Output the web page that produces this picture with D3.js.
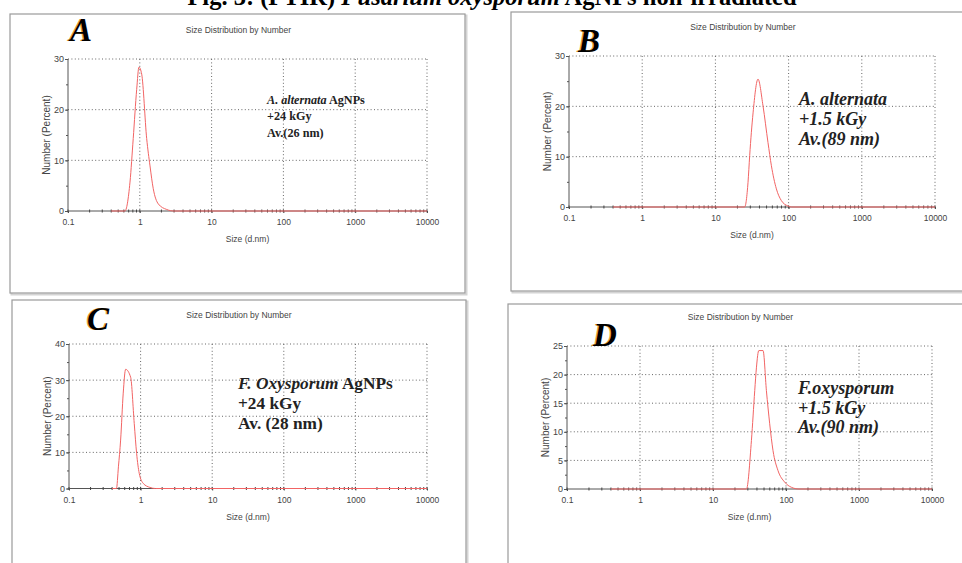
<!DOCTYPE html>
<html>
<head>
<meta charset="utf-8">
<script src="https://cdn.jsdelivr.net/npm/d3@7/dist/d3.min.js"></script>
<style>
  body { margin: 0; background: #fff; }
  svg { display: block; }
</style>
</head>
<body>
<div id="chart"></div>
<script>
// sizes (d.nm) and number (%)
const sizesA = [0.4, 0.62, 0.73, 0.81, 0.905, 0.974, 1.063, 1.247, 1.387, 1.54, 1.81, 2.37, 3.0, 10000];
const numA   = [0,   0,    5.7,  14.3, 24,    28.4,  27.0,  14.3,  8.9,   4.4,  1.4,  0.3,  0,   0];

const sizesB = [0.4, 25.1, 27.9, 29.4, 32.7, 38.2, 44.7, 52.3, 58.2, 68.1, 79.4, 98,  110, 10000];
const numB   = [0,   0,    4.9,  10.2, 18.7, 25.4, 20.1, 12.8, 8.2,  3.6,  1.3,  0.2, 0,   0];

const sizesC = [0.4, 0.46, 0.49, 0.526, 0.572, 0.618, 0.726, 0.815, 0.88, 0.957, 1.09, 1.35, 1.6, 10000];
const numC   = [0,   0,    6,    13.4,  26.4,  33,    30.8,  18,    9.7,  4.2,   1.4,  0.3,  0,   0];

const sizesD = [0.4, 28.7, 33.6, 37.3, 39.4, 42.4, 48.5, 53.9, 59.8, 66.4, 77.8, 96,  118.6, 150, 10000];
const numD   = [0,   0,    8.5,  17.2, 21.3, 24.2, 24.2, 17.2, 11.4, 6.7,  3.2,  1.2, 0.3,   0,   0];

const xTickLabels = ['0.1', '1', '10', '100', '1000', '10000'];
const yTicksA = [0, 10, 20, 30];
const yTicksB = [0, 10, 20, 30];
const yTicksC = [0, 10, 20, 30, 40];
const yTicksD = [0, 5, 10, 15, 20, 25];

// annotation lines: [text, italic]
const annotA = [[['A. alternata', true], [' AgNPs', false]], [['+24 kGy', false]], [['Av.(26 nm)', false]]];
const annotB = [[['A. alternata', true]], [['+1.5 kGy', true]], [['Av.(89 nm)', true]]];
const annotC = [[['F. Oxysporum', true], [' AgNPs', false]], [['+24 kGy', false]], [['Av. (28 nm)', false]]];
const annotD = [[['F.oxysporum', true]], [['+1.5 kGy', true]], [['Av.(90 nm)', true]]];

const panels = [
  { letter: 'A', sizes: sizesA, values: numA, yTicks: yTicksA, annot: annotA, yMinor: 5,
    frame: [10, 14, 455, 279], plot: [68, 427, 59, 211], letterPos: [70, 41], annotPos: [267, 103.5], annotSize: 12.2, annotGap: 16.5 },
  { letter: 'B', sizes: sizesB, values: numB, yTicks: yTicksB, annot: annotB, yMinor: 5,
    frame: [511, 12, 452, 279], plot: [569, 935, 56, 207], letterPos: [578, 52], annotPos: [799, 105], annotSize: 18, annotGap: 20 },
  { letter: 'C', sizes: sizesC, values: numC, yTicks: yTicksC, annot: annotC, yMinor: 5,
    frame: [12, 300, 454, 280], plot: [69, 427, 344, 488.5], letterPos: [87, 330], annotPos: [238, 389], annotSize: 17.3, annotGap: 20 },
  { letter: 'D', sizes: sizesD, values: numD, yTicks: yTicksD, annot: annotD, yMinor: 2.5,
    frame: [508, 304, 460, 280], plot: [567, 932, 346, 489], letterPos: [593, 346], annotPos: [798, 394], annotSize: 18, annotGap: 19.5 }
];

const svg = d3.select('#chart')
  .append('svg')
  .attr('width', 962)
  .attr('height', 563);

// figure caption, cut at the top of the picture
const caption = svg.append('text')
  .attr('x', 492)
  .attr('y', 5)
  .attr('text-anchor', 'middle')
  .style('font', 'bold 24.5px "Liberation Serif"');
caption.append('tspan').text('Fig. 3: (FTIR) ');
caption.append('tspan').style('font-style', 'italic').text('Fusarium oxysporum');
caption.append('tspan').text(' AgNPs non-irradiated');

const smallFont = '8.5px "Liberation Sans"';
const xTickVals = xTickLabels.map(Number);

function drawPanel(p) {
  const g = svg.append('g');
  const [fx, fy, fw, fh] = p.frame;
  const [left, right, top, bottom] = p.plot;

  // frame with soft shadow
  g.append('rect')
    .attr('x', fx + 1.5).attr('y', fy + 1.5).attr('width', fw).attr('height', fh)
    .attr('fill', 'none').attr('stroke', '#d4d4d4').attr('stroke-width', 2);
  g.append('rect')
    .attr('x', fx).attr('y', fy).attr('width', fw).attr('height', fh)
    .attr('fill', '#fff').attr('stroke', '#9a9a9a').attr('stroke-width', 1.2);

  const x = d3.scaleLog().domain([0.1, 10000]).range([left, right]);
  const y = d3.scaleLinear().domain([0, d3.max(p.yTicks)]).range([bottom, top]);

  // dotted grid
  g.append('g').selectAll('line')
    .data(xTickVals.slice(1))
    .enter().append('line')
      .attr('x1', d => x(d)).attr('x2', d => x(d))
      .attr('y1', top).attr('y2', bottom)
      .attr('stroke', '#666').attr('stroke-width', 1)
      .attr('stroke-dasharray', '1,2.4');
  g.append('g').selectAll('line')
    .data(p.yTicks.slice(1))
    .enter().append('line')
      .attr('x1', left).attr('x2', right)
      .attr('y1', d => y(d)).attr('y2', d => y(d))
      .attr('stroke', '#666').attr('stroke-width', 1)
      .attr('stroke-dasharray', '1,2.4');

  // y axis
  const yAxis = g.append('g')
    .attr('transform', `translate(${left},0)`)
    .call(d3.axisLeft(y).tickValues(p.yTicks).tickSize(3).tickPadding(1));
  yAxis.select('.domain').attr('stroke', '#555').attr('d', `M0,${top}V${bottom}`);
  yAxis.selectAll('.tick line').attr('stroke', '#555');
  yAxis.selectAll('text').style('font', '9px "Liberation Sans"').attr('fill', '#444');

  g.append('g')
    .attr('transform', `translate(${left},0)`)
    .call(d3.axisLeft(y).tickValues(d3.range(0, d3.max(p.yTicks), p.yMinor)).tickSize(2).tickFormat(''))
    .call(a => a.select('.domain').remove())
    .selectAll('.tick line').attr('stroke', '#555');

  // x axis
  const xAxis = g.append('g')
    .attr('transform', `translate(0,${bottom})`)
    .call(d3.axisBottom(x).tickValues(xTickVals).tickFormat((d, i) => xTickLabels[i]).tickSize(2).tickPadding(6));
  xAxis.select('.domain').attr('stroke', '#555').attr('d', `M${left},0H${right}`);
  xAxis.selectAll('.tick line').attr('stroke', '#555');
  xAxis.selectAll('text').style('font', smallFont).attr('fill', '#444');

  g.append('g').selectAll('line')
    .data(x.ticks())
    .enter().append('line')
      .attr('x1', d => x(d)).attr('x2', d => x(d))
      .attr('y1', bottom - 1.5).attr('y2', bottom + 1.5)
      .attr('stroke', '#444').attr('stroke-width', 1);

  // chart texts
  const cx = (left + right) / 2;
  g.append('text')
    .attr('x', cx - 9).attr('y', top - 26)
    .attr('text-anchor', 'middle')
    .style('font', smallFont).attr('fill', '#444')
    .text('Size Distribution by Number');
  g.append('text')
    .attr('x', cx).attr('y', bottom + 31)
    .attr('text-anchor', 'middle')
    .style('font', smallFont).attr('fill', '#444')
    .text('Size (d.nm)');
  g.append('text')
    .attr('transform', `translate(${left - 18},${(top + bottom) / 2}) rotate(-90)`)
    .attr('text-anchor', 'middle')
    .style('font', '10px "Liberation Sans"').attr('fill', '#444')
    .text('Number (Percent)');

  // distribution curve
  const pts = p.sizes.map((s, i) => [s, p.values[i]]);
  const line = d3.line()
    .x(d => x(d[0]))
    .y(d => y(d[1]))
    .curve(d3.curveMonotoneX);
  g.append('path')
    .datum(pts)
    .attr('d', line)
    .attr('fill', 'none')
    .attr('stroke', '#f26464')
    .attr('stroke-width', 1);

  // panel letter with an orange fringe
  g.append('text')
    .attr('x', p.letterPos[0] - 1.2).attr('y', p.letterPos[1])
    .style('font', 'italic bold 33px "Liberation Serif"').attr('fill', '#e8a23a')
    .text(p.letter);
  g.append('text')
    .attr('x', p.letterPos[0]).attr('y', p.letterPos[1])
    .style('font', 'italic bold 33px "Liberation Serif"').attr('fill', '#000')
    .text(p.letter);

  // annotation
  p.annot.forEach((segs, i) => {
    const t = g.append('text')
      .attr('x', p.annotPos[0])
      .attr('y', p.annotPos[1] + i * p.annotGap)
      .style('font', `bold ${p.annotSize}px "Liberation Serif"`)
      .attr('fill', '#222');
    segs.forEach(s => {
      t.append('tspan')
        .style('font-style', s[1] ? 'italic' : 'normal')
        .text(s[0]);
    });
  });
}

panels.forEach(drawPanel);
</script>
</body>
</html>
